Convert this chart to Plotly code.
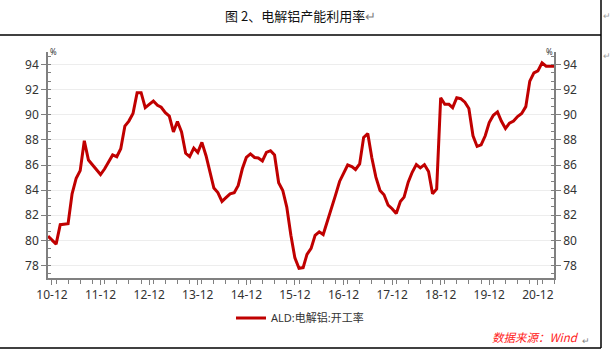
import pandas as pd
import plotly.graph_objects as go

# ---- data (monthly, Nov 2010 - Apr 2021) ----
start_month = "2010-11-01"
values = [
    80.33, 80.0, 79.7, 81.25, 81.3, 81.33, 83.7, 84.95, 85.55, 87.93, 86.4, 86.03,
    85.6, 85.24, 85.7, 86.27, 86.8, 86.66, 87.3, 89.1, 89.5, 90.1, 91.76, 91.76,
    90.57, 90.83, 91.1, 90.75, 90.6, 90.17, 89.9, 88.64, 89.46,
    88.64, 86.93, 86.66, 87.35, 87.0, 87.8, 86.74, 85.4, 84.16, 83.8, 83.1, 83.4,
    83.7, 83.8, 84.37, 85.7, 86.6, 86.88, 86.6, 86.56, 86.32, 87.0, 87.14, 86.8,
    84.58, 83.97, 82.65, 80.4, 78.6, 77.77,
    77.83, 78.88, 79.36, 80.4, 80.68, 80.46, 81.47, 82.47, 83.58, 84.69, 85.3, 86.0,
    85.87, 85.64, 86.08, 88.2, 88.5, 86.6, 85.03, 83.97, 83.63, 82.8, 82.52, 82.13,
    83.1, 83.44, 84.63, 85.42, 86.03, 85.77, 86.03,
    85.48, 83.71, 84.1, 91.36, 90.83, 90.83, 90.57, 91.36, 91.28, 91.0, 90.5, 88.33,
    87.48, 87.6, 88.33, 89.38, 89.96, 90.23, 89.5, 88.9, 89.33, 89.5, 89.86, 90.1,
    90.65, 92.68, 93.34, 93.5, 94.13, 93.87, 93.87, 93.87,
]
dates = pd.date_range(start_month, periods=len(values), freq="MS")
series_name = "ALD:电解铝:开工率"
title_text = "图 2、电解铝产能利用率"
source_text = "数据来源：Wind"

# ---- geometry helpers (pixel -> paper) ----
W, H = 612, 351
L, R, T, B = 48, 554, 52, 278
def px(x):
    return (x - L) / (R - L)
def py(y):
    return (B - y) / (B - T)

RED = "#C00000"
AX = "#808080"
TXT = "#333333"
FONT = "Noto Sans, Noto Sans CJK SC, sans-serif"

fig = go.Figure()
fig.add_trace(go.Scatter(x=dates, y=values, mode="lines", name=series_name,
                         line=dict(color=RED, width=3), yaxis="y"))
fig.add_trace(go.Scatter(x=dates, y=values, mode="lines", showlegend=False,
                         line=dict(color="rgba(0,0,0,0)", width=0), hoverinfo="skip",
                         yaxis="y2"))

yax = dict(range=[77, 95], tick0=78, dtick=2, ticks="outside", ticklen=5,
           tickcolor=AX, tickwidth=1, showline=True, linecolor=AX, linewidth=1.5,
           zeroline=False, tickfont=dict(size=12, color=TXT, family=FONT),
           minor=dict(tick0=78, dtick=2/3, ticks="inside", ticklen=3,
                      tickcolor=AX, showgrid=False))

fig.update_layout(
    width=W, height=H,
    margin=dict(l=L, r=W - R, t=T, b=H - B, pad=0),
    paper_bgcolor="white", plot_bgcolor="white",
    font=dict(family=FONT, size=12, color=TXT),
    xaxis=dict(type="date", range=[dates[0], dates[-1]], tick0="2010-12-01",
               dtick="M12", tickformat="%y-%m", ticks="outside", ticklen=5,
               tickcolor=AX, showline=True, linecolor=AX, linewidth=1.5,
               showgrid=False, zeroline=False,
               tickfont=dict(size=12, color=TXT, family=FONT),
               minor=dict(dtick="M3", ticks="outside", ticklen=4,
                          tickcolor=AX, showgrid=False)),
    yaxis=dict(**yax, side="left", showgrid=True, gridcolor="#EDEDED", gridwidth=1),
    yaxis2=dict(**yax, side="right", overlaying="y", anchor="x", showgrid=False),
    showlegend=True,
    legend=dict(orientation="h", x=px(231), xanchor="left", y=py(318),
                yanchor="middle", font=dict(size=11, color=TXT, family=FONT),
                bgcolor="rgba(0,0,0,0)", itemwidth=30),
)

# frame lines of the document
frame = [(0, 35, 601, 35), (601, 0, 601, 348), (0, 348, 601, 348)]
for x0, y0, x1, y1 in frame:
    fig.add_shape(type="line", xref="paper", yref="paper",
                  x0=px(x0), y0=py(y0), x1=px(x1), y1=py(y1),
                  line=dict(color="black", width=1.5))

ann = [
    dict(x=px(300), y=py(15), text=title_text + '<span style="color:#7f7f7f">↵</span>',
         xanchor="center", yanchor="middle", font=dict(size=13, color="#111111",
                                                        family="Noto Sans CJK SC, sans-serif")),
    dict(x=px(53), y=py(51), text="%", xanchor="center", yanchor="middle",
         font=dict(size=8, color=TXT)),
    dict(x=px(549), y=py(51), text="%", xanchor="center", yanchor="middle",
         font=dict(size=8, color=TXT)),
    dict(x=px(490), y=py(337), text="<i>" + source_text + "</i>", xanchor="left",
         yanchor="middle", font=dict(size=11.5, color="#FF2020",
                                     family="Noto Sans CJK SC, sans-serif")),
    dict(x=px(586), y=py(340), text="↵", xanchor="center", yanchor="middle",
         font=dict(size=9, color="#7f7f7f")),
    dict(x=px(607), y=py(15), text="↵", xanchor="center", yanchor="middle",
         font=dict(size=9, color="#9f9f9f")),
    dict(x=px(607), y=py(55), text="↵", xanchor="center", yanchor="middle",
         font=dict(size=9, color="#9f9f9f")),
]
for a in ann:
    fig.add_annotation(xref="paper", yref="paper", showarrow=False, **a)

fig.write_html("out.html")
